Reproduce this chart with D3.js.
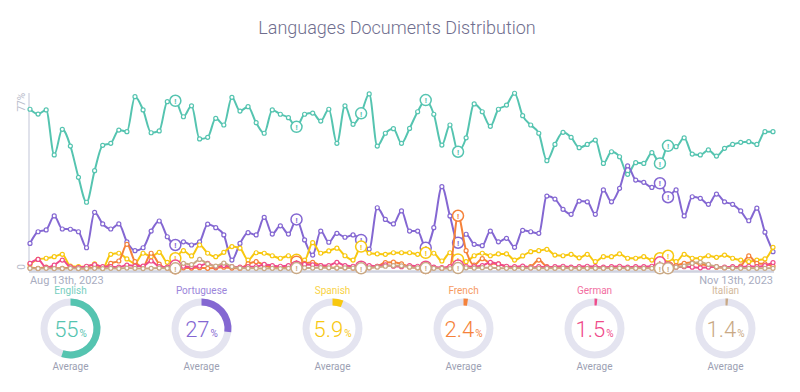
<!DOCTYPE html>
<html><head><meta charset="utf-8">
<script src="https://cdn.jsdelivr.net/npm/d3@7"></script>
<style>body{margin:0;background:#fff;font-family:Roboto,"Noto Sans",sans-serif}</style>
</head><body><svg id="c" width="800" height="392"></svg>
<script>
const languages = ["English","Portuguese","Spanish","French","German","Italian"];
const colors = ["#55c4b0","#8467d2","#f8c80f","#f5823a","#ef4b8a","#c9a985"];
const averages = ["55","27","5.9","2.4","1.5","1.4"];
const startLabel = "Aug 13th, 2023", endLabel = "Nov 13th, 2023";
const yMaxLabel = "77%";
const flagIdx = [18,33,41,49,53,78,79];

const english = [69.9,67.8,69.6,49.9,61.1,53.8,40.1,29.2,43.0,54.1,55.0,60.8,60.1,75.4,69.6,59.6,60.4,73.2,73.6,66.6,71.4,56.9,57.6,65.9,63.0,75.1,69.1,71.0,64.0,59.4,
69.6,67.7,66.2,62.2,67.7,68.2,64.7,69.9,55.0,71.4,63.3,68.1,76.6,53.8,59.4,61.4,55.0,61.5,68.8,73.9,67.7,54.2,63.0,51.3,57.4,72.2,68.8,62.4,69.9,71.7,76.9,
67.1,63.0,59.4,47.4,54.5,59.8,57.6,53.1,54.5,56.4,46.2,51.3,49.1,41.4,46.5,46.2,50.9,46.2,53.9,53.5,57.4,50.3,49.9,52.1,49.4,52.8,54.5,55.4,55.7,54.5,60.1,60.1];
const portuguese = [11.2,16.3,17.1,23.2,17.5,17.4,16.3,9.3,24.8,19.7,17.5,19.7,11.9,8.0,9.3,16.6,21.0,14.1,10.5,11.9,10.5,11.9,19.6,18.1,14.9,3.9,11.2,15.9,14.9,22.6,
15.3,18.9,15.3,21.7,12.7,6.1,16.6,11.7,15.6,13.9,14.9,12.7,8.7,26.8,21.7,19.7,25.4,16.6,16.6,9.3,18.1,36.0,23.2,11.5,15.2,10.8,10.2,16.6,11.9,13.4,9.5,
16.9,16.3,15.6,31.9,30.6,26.1,23.9,29.7,29.4,23.9,34.6,29.4,35.3,45.1,38.9,37.9,35.7,37.5,31.4,34.6,23.2,31.6,30.9,28.3,32.8,29.4,28.3,25.4,21.1,26.6,16.1,7.6];
const spanish = [2.1,4.2,4.7,5.4,6.4,1.3,1.0,1.0,2.2,0.3,6.4,6.9,4.4,2.5,6.9,5.4,7.3,2.9,4.7,8.0,5.7,10.5,6.9,5.4,7.3,9.8,9.1,3.9,7.1,6.9,
5.8,4.7,5.8,4.0,3.9,11.5,6.9,7.9,9.1,5.8,3.9,9.8,6.9,6.6,6.4,7.1,7.1,7.1,6.4,7.1,6.9,3.5,7.1,4.2,3.2,5.8,6.9,5.8,6.6,6.6,3.9,
5.7,7.6,8.0,8.6,6.1,5.8,6.4,4.9,6.4,3.2,5.4,5.4,6.6,4.7,4.7,5.4,3.9,4.7,5.8,3.2,6.4,4.7,4.7,5.8,5.1,6.1,4.7,3.9,3.2,3.9,4.4,9.5];
const french = [0.5,0.3,0.8,0.4,0.3,0.5,0.3,0.2,0.6,0.4,2.5,3.5,10.8,3.2,1.0,6.9,2.1,0.4,0.3,0.5,0.4,0.6,0.3,0.5,0.8,0.4,0.3,2.2,3.2,1.7,
0.6,0.4,0.8,3.2,2.5,2.9,1.5,0.8,0.5,0.6,0.4,0.5,0.6,1.2,2.8,3.0,2.2,1.0,0.6,0.4,0.5,0.3,1.0,23.3,8.0,1.7,4.5,2.5,2.2,1.0,0.6,
0.5,1.0,3.9,1.0,0.6,0.5,0.5,0.4,0.5,0.6,0.4,0.5,0.5,0.3,0.5,0.4,0.5,0.6,0.8,1.5,2.5,2.8,2.2,1.5,0.8,0.6,0.5,1.3,5.7,2.5,2.2,1.3];
const german = [2.5,4.2,0.6,1.7,3.9,0.9,0.6,1.2,1.9,1.0,1.0,0.8,1.7,1.3,1.3,3.5,1.0,0.8,1.5,1.2,1.0,1.3,2.5,1.0,1.5,1.0,0.8,1.0,1.0,2.0,
1.5,1.2,1.5,1.0,2.0,1.8,1.5,1.5,2.9,1.5,1.2,1.0,1.5,1.2,1.8,1.2,1.0,1.5,1.2,1.0,0.8,0.6,1.0,1.5,1.2,1.0,1.5,2.9,2.2,1.2,1.0,
1.3,0.6,1.0,0.8,1.0,1.2,0.8,1.0,1.2,1.0,0.8,1.0,1.2,0.8,1.0,1.0,1.2,2.9,0.6,0.8,1.0,0.8,0.5,0.8,1.0,0.8,1.0,0.8,1.2,1.0,1.5,2.8];
const italian = [0.3,0.2,0.3,0.2,0.2,0.3,0.2,0.2,0.3,0.2,0.3,0.2,0.4,0.3,0.2,0.3,0.4,0.3,0.3,2.5,1.9,4.2,2.2,1.3,2.6,1.0,0.4,0.3,0.3,0.2,
0.3,0.2,0.3,0.4,0.5,0.4,0.6,0.5,0.4,0.5,0.4,0.3,0.5,0.8,1.2,1.5,1.4,0.8,0.5,0.4,0.3,0.3,0.2,0.4,0.5,0.4,0.6,0.5,0.4,0.3,0.3,
0.3,0.4,0.3,0.3,0.3,0.4,0.3,0.3,0.3,0.3,0.3,0.3,0.4,0.3,0.3,0.3,0.3,0.3,0.3,0.8,1.3,2.5,2.9,2.0,1.0,0.5,0.4,0.3,0.3,0.3,0.3,0.3];
const seriesValues = [english,portuguese,spanish,french,german,italian];

const svg = d3.select("#c");
const x = d3.scaleLinear().domain([0, english.length-1]).range([30, 773]);
const y = d3.scaleLinear().domain([0, 77]).range([269, 93]);

svg.append("text").attr("x",397).attr("y",34).attr("text-anchor","middle")
  .attr("font-size",18).attr("font-weight",300).attr("fill","#6f6e8e").text("Languages Documents Distribution");

// axes
svg.append("line").attr("x1",29).attr("x2",29).attr("y1",y(77)).attr("y2",271).attr("stroke","#d6d9e4").attr("stroke-width",1.5);
svg.append("line").attr("x1",29).attr("x2",774).attr("y1",271.5).attr("y2",271.5).attr("stroke","#cfd2df").attr("stroke-width",2.5);
svg.append("text").attr("transform",`translate(25,${y(77)}) rotate(-90)`).attr("text-anchor","end")
  .attr("font-size",10).attr("fill","#b9bccb").text(yMaxLabel);
svg.append("text").attr("transform",`translate(25,${y(0)-2}) rotate(-90)`).attr("text-anchor","middle")
  .attr("font-size",10).attr("fill","#b9bccb").text("0");
svg.append("text").attr("x",30).attr("y",284).attr("font-size",11).attr("fill","#a9adbf").text(startLabel);
svg.append("text").attr("x",773).attr("y",284).attr("text-anchor","end").attr("font-size",11).attr("fill","#a9adbf").text(endLabel);

const line = d3.line().x((d,i)=>x(i)).y(d=>y(d)).curve(d3.curveMonotoneX);
const g = svg.append("g");
seriesValues.forEach((vals,k)=>{
  const sg = g.append("g");
  sg.append("path").datum(vals).attr("d",line).attr("fill","none").attr("stroke",colors[k]).attr("stroke-width",2);
  sg.selectAll("circle.pt").data(vals).join("circle").attr("class","pt")
    .attr("cx",(d,i)=>x(i)).attr("cy",d=>y(d)).attr("r",(d,i)=>flagIdx.includes(i)?0:2)
    .attr("fill","#fff").attr("stroke",colors[k]).attr("stroke-width",1.2);
  const fl = sg.selectAll("g.flag").data(flagIdx).join("g").attr("class","flag")
    .attr("transform",i=>`translate(${x(i)},${y(vals[i])})`);
  fl.append("circle").attr("r",5.5).attr("fill","#fff").attr("stroke",colors[k]).attr("stroke-width",1.5);
  fl.append("text").attr("text-anchor","middle").attr("y",3.2).attr("font-size",8).attr("font-weight",700)
    .attr("fill",colors[k]).text("!");
});

// donuts
const arc = d3.arc().innerRadius(23).outerRadius(30);
languages.forEach((lang,k)=>{
  const cx = 70.5 + k*131, cy = 328.5;
  const dg = svg.append("g").attr("transform",`translate(${cx},${cy})`);
  dg.append("path").attr("d",arc({startAngle:0,endAngle:2*Math.PI})).attr("fill","#e4e4f0");
  dg.append("path").attr("d",arc({startAngle:0,endAngle:2*Math.PI*(+averages[k])/100})).attr("fill",colors[k]);
  dg.append("text").attr("y",-35).attr("text-anchor","middle").attr("font-size",10).attr("fill",colors[k]).attr("opacity",0.8).text(lang);
  const t = dg.append("text").attr("y",8).attr("text-anchor","middle").attr("fill",colors[k]);
  t.append("tspan").attr("font-size",22).attr("font-weight",300).text(averages[k]);
  t.append("tspan").attr("font-size",10).attr("dx",1).text("%");
  dg.append("text").attr("y",41).attr("text-anchor","middle").attr("font-size",10).attr("fill","#9c9fb3").text("Average");
});
</script></body></html>
